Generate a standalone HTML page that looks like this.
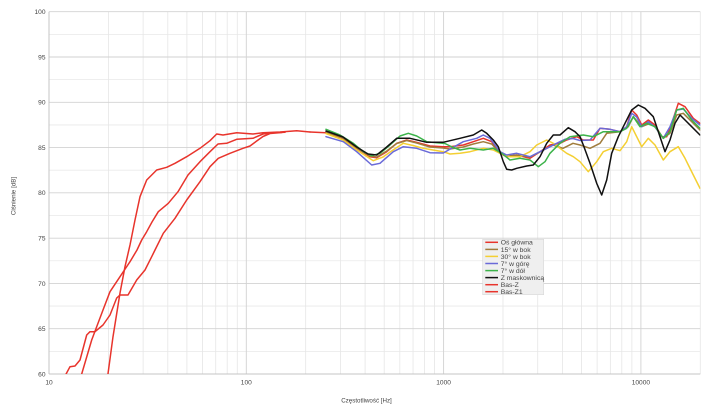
<!DOCTYPE html>
<html><head><meta charset="utf-8">
<style>
html,body{margin:0;padding:0;background:#fff;}
svg{display:block;}
text{font-family:"Liberation Sans",sans-serif;fill:#444;}
</style></head>
<body>
<svg width="708" height="412" viewBox="0 0 708 412" xmlns="http://www.w3.org/2000/svg">
<defs><clipPath id="pc"><rect x="49" y="11.7" width="651.3" height="362.3"/></clipPath></defs>
<rect width="708" height="412" fill="#fff"/>
<!-- minor horizontal grid -->
<g stroke="#e9e9e9" stroke-width="0.8">
<line x1="49" x2="700.3" y1="351.36" y2="351.36"/>
<line x1="49" x2="700.3" y1="306.07" y2="306.07"/>
<line x1="49" x2="700.3" y1="260.78" y2="260.78"/>
<line x1="49" x2="700.3" y1="215.5" y2="215.5"/>
<line x1="49" x2="700.3" y1="170.21" y2="170.21"/>
<line x1="49" x2="700.3" y1="124.92" y2="124.92"/>
<line x1="49" x2="700.3" y1="79.63" y2="79.63"/>
<line x1="49" x2="700.3" y1="34.34" y2="34.34"/>
</g>
<!-- minor vertical grid -->
<g stroke="#e6e6e6" stroke-width="0.8">
<line y1="11.7" y2="374" x1="108.39" x2="108.39"/><line y1="11.7" y2="374" x1="143.14" x2="143.14"/><line y1="11.7" y2="374" x1="167.79" x2="167.79"/><line y1="11.7" y2="374" x1="186.91" x2="186.91"/><line y1="11.7" y2="374" x1="202.53" x2="202.53"/><line y1="11.7" y2="374" x1="215.74" x2="215.74"/><line y1="11.7" y2="374" x1="227.18" x2="227.18"/><line y1="11.7" y2="374" x1="237.27" x2="237.27"/>
<line y1="11.7" y2="374" x1="305.69" x2="305.69"/><line y1="11.7" y2="374" x1="340.44" x2="340.44"/><line y1="11.7" y2="374" x1="365.09" x2="365.09"/><line y1="11.7" y2="374" x1="384.21" x2="384.21"/><line y1="11.7" y2="374" x1="399.83" x2="399.83"/><line y1="11.7" y2="374" x1="413.04" x2="413.04"/><line y1="11.7" y2="374" x1="424.48" x2="424.48"/><line y1="11.7" y2="374" x1="434.57" x2="434.57"/>
<line y1="11.7" y2="374" x1="502.99" x2="502.99"/><line y1="11.7" y2="374" x1="537.74" x2="537.74"/><line y1="11.7" y2="374" x1="562.39" x2="562.39"/><line y1="11.7" y2="374" x1="581.51" x2="581.51"/><line y1="11.7" y2="374" x1="597.13" x2="597.13"/><line y1="11.7" y2="374" x1="610.34" x2="610.34"/><line y1="11.7" y2="374" x1="621.78" x2="621.78"/><line y1="11.7" y2="374" x1="631.87" x2="631.87"/>
<line y1="11.7" y2="374" x1="700.29" x2="700.29"/>
</g>
<!-- major grid -->
<g stroke="#d2d2d2" stroke-width="0.9">
<line x1="49" x2="700.3" y1="11.7" y2="11.7"/>
<line x1="49" x2="700.3" y1="56.99" y2="56.99"/>
<line x1="49" x2="700.3" y1="102.28" y2="102.28"/>
<line x1="49" x2="700.3" y1="147.56" y2="147.56"/>
<line x1="49" x2="700.3" y1="192.85" y2="192.85"/>
<line x1="49" x2="700.3" y1="238.14" y2="238.14"/>
<line x1="49" x2="700.3" y1="283.43" y2="283.43"/>
<line x1="49" x2="700.3" y1="328.71" y2="328.71"/>
<line y1="11.7" y2="374" x1="246.3" x2="246.3"/>
<line y1="11.7" y2="374" x1="443.6" x2="443.6"/>
<line y1="11.7" y2="374" x1="640.9" x2="640.9"/>
</g>
<g stroke="#c4c4c4" stroke-width="1">
<line x1="49" x2="700.3" y1="374" y2="374"/>
<line x1="49" x2="49" y1="11.7" y2="374"/>
</g>
<!-- Y labels -->
<g font-size="6.6" text-anchor="end">
<text x="45.5" y="14">100</text>
<text x="45.5" y="59.3">95</text>
<text x="45.5" y="104.6">90</text>
<text x="45.5" y="149.9">85</text>
<text x="45.5" y="195.2">80</text>
<text x="45.5" y="240.5">75</text>
<text x="45.5" y="285.8">70</text>
<text x="45.5" y="331">65</text>
<text x="45.5" y="376.3">60</text>
</g>
<g font-size="6.6" text-anchor="middle">
<text x="49" y="384.5">10</text>
<text x="246.3" y="384.5">100</text>
<text x="443.6" y="384.5">1000</text>
<text x="640.9" y="384.5">10000</text>
</g>
<text x="366.5" y="402.5" font-size="6.2" text-anchor="middle" fill="#333">Częstotliwość [Hz]</text>
<text transform="translate(15.5,196) rotate(-90)" font-size="6.2" text-anchor="middle" fill="#333">Ciśnienie [dB]</text>

<g clip-path="url(#pc)" fill="none" stroke-width="1.5" stroke-linejoin="round" stroke-linecap="round">
<!-- Oś główna -->
<polyline stroke="#e8342c" points="310,132 326,132.7 343,138.3 356.7,148.3 370,156.7 376.7,157.7 386.7,151.7 396.7,143.3 406.7,140 416.7,142.3 430,146 443,146.7 450,146.7 463.3,145 473.3,141.7 483.3,138.3 491.7,141.7 500,153.3 506.7,156.7 516.7,155 530,158.3 540,151.7 550,145 560,143.3 566.7,140 576.7,136.7 583.3,140 593.3,140 600,128.3 610,129.3 620,131.7 626.7,126.7 631.7,110 636.7,115 641.7,125 648.3,120 655,125 661.7,136.7 666.7,136.7 671.7,123.3 678.3,103.3 685,106.7 693.3,118.3 700,123.3"/>
<!-- 15 w bok -->
<polyline stroke="#a07c3c" points="326,132 343,138 356.7,148 370,156 376.7,157 386.7,151 396.7,143.5 406.7,140.5 416.7,143 430,147 443,148 450,149 463.3,147 473.3,144 483.3,141.7 491.7,144 500,153 506.7,156 516.7,155 530,157 540,152 553,145 563,148.3 573,143.3 580,145 590,148.3 600,143.3 606.7,133.3 620,131.7 628.3,126.7 633.3,116.7 641.7,126.7 650,123.3 656.7,128.3 663.3,138.3 670,133.3 676.7,115 683.3,113.3 690,120 700,130"/>
<!-- 30 w bok -->
<polyline stroke="#f4cf32" points="326,133.5 343,140 356.7,150 373.3,160.7 383,157 393,150 403.3,143.3 413,145.5 423.3,148.3 433,150 443.3,151.7 450,154 460,153.3 470,151.7 483.3,148.3 493.3,150 500,153.3 510,156.7 520,156.7 530,151.7 536.7,145 546.7,140 553.3,143.3 560,148.3 566.7,153.3 573.3,156.7 580,161.7 588.3,171.7 596.7,161.7 603.3,151.7 611.7,148.3 620,150.7 626.7,141.7 631.7,126.7 636.7,136.7 641.7,146.7 648.3,138.3 655,145 663.3,160 670,151.7 678.3,146.7 685,158.3 693.3,175 700,188.3"/>
<!-- 7 w gore -->
<polyline stroke="#6a6ad8" points="326,136.7 343.3,141.7 356.7,151.7 371.7,165 380,163.3 393.3,151.7 403.3,146.7 416.7,148.3 430,152.7 443.3,153 452,148 463.3,141.7 476.7,138.3 483.3,135 490,138.3 500,151.7 506.7,155 516.7,153.3 530,156.7 540,151.7 550,146.7 556.7,143.3 565,139.3 573,138.5 580,140.5 590,140 600,128.3 610,129.3 620,131.7 626.7,126.7 631.7,113.3 636.7,117 641.7,126.7 648.3,121.7 655,127 663.3,138.3 670,126.7 676.7,110 683.3,109 691.7,118.3 700,125"/>
<!-- 7 w dol -->
<polyline stroke="#3cb34a" points="326,129.3 340,135 353.3,143.3 363.3,151.7 371.7,155.7 380,153.3 390,145 400,136 408.3,133.3 416.7,136 426.7,141.7 436.7,142.7 445,143.5 452,147 460,150 470,148.3 483.3,150 493.3,148.3 501.7,153.3 510,160 520,158.3 530,160 538.3,166.7 545,161.7 550,153.3 560,143.3 570,136.7 583.3,135 593.3,136.7 603.3,131.7 620,131.7 626.7,128.3 633.3,116.7 640,126.7 646.7,123.3 655,126.7 663.3,138.3 670,131.7 676.7,110 683.3,108.3 691.7,120 700,128.3"/>
<!-- Z maskownica -->
<polyline stroke="#111" points="326,131 343,137 356.7,147 368,154 376.7,155 386.7,147 396.7,138.3 410,138.3 426.7,142.3 443,142.3 450,140.7 460,138.3 473.3,135 481.7,130 486.7,133.3 493.3,140 498.3,146.7 503.3,161.7 506.7,169.3 511.7,170 516.7,168.3 526.7,166 533.3,165 540,156.7 546.7,143.3 553.3,135 560,135 568.3,127.7 575,131.7 580,136.7 583.3,145 590,163.3 596.7,183.3 601.7,195 606.7,180 611.7,153.3 618.3,136.7 625,123.3 631.7,110 638.3,105 645,108.3 653.3,116.7 660,136.7 665,151.7 670,140 675,123.3 680,115 685,120 691.7,126.7 700,135"/>
<!-- Bas-Z (steep) -->
<polyline stroke="#e8342c" points="107.7,376 113,336.7 120,293 125,266.7 130,245 135,220 140,196.7 146.7,180 156.7,170 166.7,167.3 175,163.3 186.7,156.7 200,148.3 210,140.7 216.7,134 223,135 236.7,132.7 253,134 263,132.7 280,132 296.7,130.7 310,132"/>
<!-- Bas-Z1 (smooth) -->
<polyline stroke="#e8342c" points="80.5,378 91.7,340 103,310 110,291.7 120,276.7 130,261.7 137,250 141.7,240 146.7,231.7 152,222 158.3,211.7 168.3,203.3 178,191.7 188,175 200,161.7 210,151.7 218,144 226.7,143.3 236.7,139.3 253,138.3 263,134 272,132.8 285,132.3"/>
<!-- third red (plateau) -->
<polyline stroke="#e8342c" points="65,376 70,366.7 75,366 80,360 86.7,335 90,331.7 95,331.7 103,325 110,315 116.7,298 120,295 128,295 136.7,280 145,270 151.7,256.7 155,250 163.3,233.3 175,218.3 186.7,200 200,181.7 210,166.7 218.3,158.3 230,153.3 243,148.3 250,146 256.7,141 263,136.5 270,133.5 282,132.5"/>
</g>

<!-- Legend -->
<rect x="482.7" y="239.3" width="61" height="55.4" fill="#efefef" stroke="#d8d8d8" stroke-width="0.6"/>
<g stroke-width="1.5">
<line x1="485.3" x2="498" y1="242.3" y2="242.3" stroke="#e8342c"/>
<line x1="485.3" x2="498" y1="249.4" y2="249.4" stroke="#a07c3c"/>
<line x1="485.3" x2="498" y1="256.4" y2="256.4" stroke="#f4cf32"/>
<line x1="485.3" x2="498" y1="263.5" y2="263.5" stroke="#6a6ad8"/>
<line x1="485.3" x2="498" y1="270.6" y2="270.6" stroke="#3cb34a"/>
<line x1="485.3" x2="498" y1="277.6" y2="277.6" stroke="#111"/>
<line x1="485.3" x2="498" y1="284.7" y2="284.7" stroke="#e8342c"/>
<line x1="485.3" x2="498" y1="291.7" y2="291.7" stroke="#e8342c"/>
</g>
<g font-size="6.8" fill="#333">
<text x="500.7" y="244.7">Oś główna</text>
<text x="500.7" y="251.8">15° w bok</text>
<text x="500.7" y="258.8">30° w bok</text>
<text x="500.7" y="265.9">7° w górę</text>
<text x="500.7" y="273">7° w dół</text>
<text x="500.7" y="280">Z maskownicą</text>
<text x="500.7" y="287.1">Bas-Z</text>
<text x="500.7" y="294.1">Bas-Z1</text>
</g>
</svg>
</body></html>
